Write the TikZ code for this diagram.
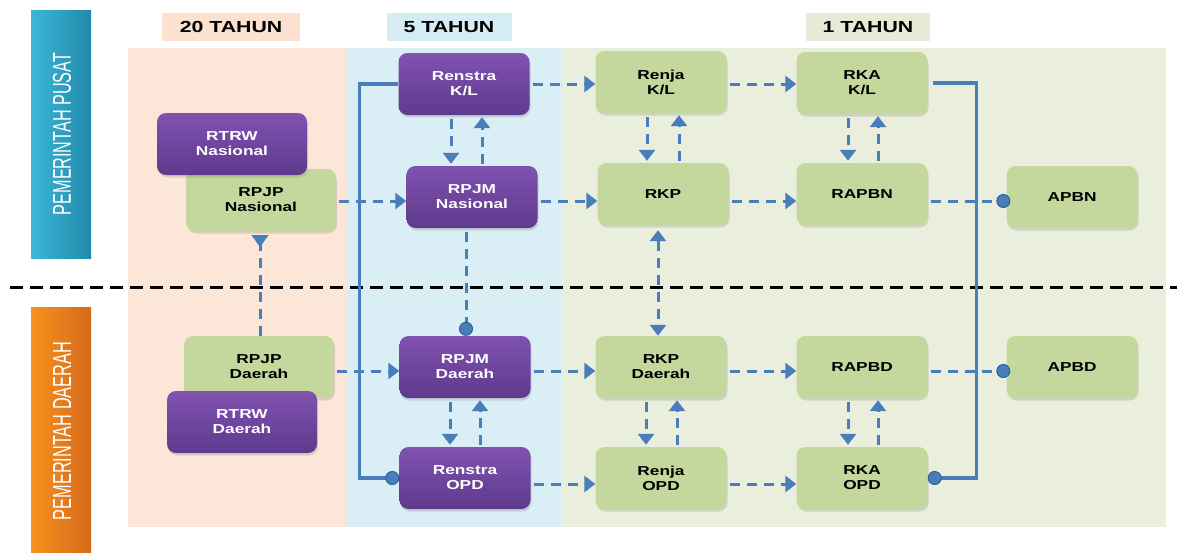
\documentclass[tikz,border=0pt]{standalone}
\usepackage{fontspec}
\setmainfont{Liberation Sans}
\usetikzlibrary{arrows.meta,shadows,calc}
\definecolor{bgpink}{HTML}{FCE6D8}
\definecolor{bgblue}{HTML}{DAEEF5}
\definecolor{bggreen}{HTML}{EAEEDD}
\definecolor{hdpink}{HTML}{FBE2D0}
\definecolor{hdblue}{HTML}{D6ECF4}
\definecolor{hdgreen}{HTML}{E6EBD6}
\definecolor{boxgreen}{HTML}{C4D79C}
\definecolor{purtop}{HTML}{8052B1}
\definecolor{purbot}{HTML}{5E3A8C}
\definecolor{lnblue}{HTML}{4A7EBB}
\definecolor{lndark}{HTML}{2F5F99}
\definecolor{bartop}{HTML}{3DB6D8}
\definecolor{barbot}{HTML}{1F8AAA}
\definecolor{ortop}{HTML}{F8921F}
\definecolor{orbot}{HTML}{D5691A}
\newcommand\wtxt[1]{\scalebox{1.33}[1]{#1}}
\tikzset{
  box/.style={rounded corners=9pt, minimum width=131pt, minimum height=62pt, inner sep=0pt, align=center,
    font=\fontsize{13}{15}\selectfont\bfseries,
    drop shadow={opacity=0.25, shadow xshift=1pt, shadow yshift=-2.5pt}},
  gbox/.style={box, fill=boxgreen, text=black},
  pbox/.style={box, top color=purtop, bottom color=purbot, text=white},
  wbox/.style={minimum width=150pt},
  dl/.style={draw=lnblue, line width=3pt, dash pattern=on 10pt off 7pt},
  sl/.style={draw=lnblue, line width=3.3pt},
  tri/.style={-{Triangle[width=16pt,length=11pt]}},
  dtri/.style={{Triangle[width=16pt,length=11pt]}-{Triangle[width=16pt,length=11pt]}},
  dot/.style={-{Circle[length=14pt, fill=lnblue, color=lndark, line width=1pt]}},
  hdr/.style={inner sep=0pt, minimum height=28pt, font=\fontsize{16}{18}\selectfont\bfseries}
}
\begin{document}
\begin{tikzpicture}[x=1pt,y=-1pt]
\useasboundingbox (0,0) rectangle (1177,552);
\fill[white] (0,0) rectangle (1177,552);
% column backgrounds
\fill[bgpink] (128,48) rectangle (347,527);
\fill[bgblue] (347,48) rectangle (562,527);
\fill[bggreen] (562,48) rectangle (1166,527);
% headers
\node[hdr, fill=hdpink, minimum width=138pt] (h20) at (231,27) {\wtxt{20 TAHUN}};
\node[hdr, fill=hdblue, minimum width=125pt] (h5) at (449,27) {\wtxt{5 TAHUN}};
\node[hdr, fill=hdgreen, minimum width=124pt] (h1) at (868,27) {\wtxt{1 TAHUN}};
% side bars
\shade[left color=bartop, right color=barbot] (31,10) rectangle (91,258);
\node[text=white, rotate=90, inner sep=0pt] (pusat) at (62,134) {\resizebox{162pt}{18pt}{PEMERINTAH PUSAT}};
\shade[left color=ortop, right color=orbot] (31,307) rectangle (91,552);
\node[text=white, rotate=90, inner sep=0pt] (daerah) at (62,431) {\resizebox{178pt}{18pt}{PEMERINTAH DAERAH}};
% separator
\draw[black, line width=3pt, dash pattern=on 13pt off 7pt] (10,287) -- (1177,287);
% nodes left column
\node[gbox, wbox] (rpjpn) at (261,200) {\wtxt{RPJP}\\\wtxt{Nasional}};
\node[pbox, wbox] (rtrwn) at (232,144) {\wtxt{RTRW}\\\wtxt{Nasional}};
\node[gbox, wbox] (rpjpd) at (259,367) {\wtxt{RPJP}\\\wtxt{Daerah}};
\node[pbox, wbox] (rtrwd) at (242,422) {\wtxt{RTRW}\\\wtxt{Daerah}};
% 5 tahun
\node[pbox] (rsk) at (464,84) {\wtxt{Renstra}\\\wtxt{K/L}};
\node[pbox] (rpjmn) at (472,197) {\wtxt{RPJM}\\\wtxt{Nasional}};
\node[pbox] (rpjmd) at (465,367) {\wtxt{RPJM}\\\wtxt{Daerah}};
\node[pbox] (rso) at (465,478) {\wtxt{Renstra}\\\wtxt{OPD}};
% 1 tahun
\node[gbox] (rjk) at (661,82) {\wtxt{Renja}\\\wtxt{K/L}};
\node[gbox] (rkp) at (663,194) {\wtxt{RKP}};
\node[gbox] (rkpd) at (661,367) {\wtxt{RKP}\\\wtxt{Daerah}};
\node[gbox] (rjo) at (661,478) {\wtxt{Renja}\\\wtxt{OPD}};
\node[gbox] (rkak) at (862,83) {\wtxt{RKA}\\\wtxt{K/L}};
\node[gbox] (rapbn) at (862,194) {\wtxt{RAPBN}};
\node[gbox] (rapbd) at (862,367) {\wtxt{RAPBD}};
\node[gbox] (rkao) at (862,478) {\wtxt{RKA}\\\wtxt{OPD}};
\node[gbox] (apbn) at (1072,197) {\wtxt{APBN}};
\node[gbox] (apbd) at (1072,367) {\wtxt{APBD}};
% row line levels
\path (rsk.east) coordinate (L1);
\path ([yshift=-4pt]rpjmn.east) coordinate (L2);
\path ([yshift=-4pt]rpjmd.east) coordinate (L3);
\path ([yshift=-6pt]rso.east) coordinate (L4);
% solid connectors
\draw[sl, dot] (rsk.west) -- ++(-39,0) |- (rso.west);
\draw[sl, {Circle[length=14pt, fill=lnblue, color=lndark, line width=1pt]}-] (rkao.east) -- ++(49,0) |- ([xshift=5pt]rkak.east);
% horizontal dashed connectors
\draw[dl, tri, shorten <=3pt] (rpjpn.east |- L2) -- (rpjmn.west |- L2);
\draw[dl, tri, shorten <=3pt] (rsk.east |- L1) -- (rjk.west |- L1);
\draw[dl, tri, shorten <=3pt] (rjk.east |- L1) -- (rkak.west |- L1);
\draw[dl, tri, shorten <=3pt] (rpjmn.east |- L2) -- (rkp.west |- L2);
\draw[dl, tri, shorten <=3pt] (rkp.east |- L2) -- (rapbn.west |- L2);
\draw[dl, dot, shorten <=3pt, shorten >=-4pt] (rapbn.east |- L2) -- (apbn.west |- L2);
\draw[dl, tri, shorten <=3pt] (rpjpd.east |- L3) -- (rpjmd.west |- L3);
\draw[dl, tri, shorten <=3pt] (rpjmd.east |- L3) -- (rkpd.west |- L3);
\draw[dl, tri, shorten <=3pt] (rkpd.east |- L3) -- (rapbd.west |- L3);
\draw[dl, dot, shorten <=3pt, shorten >=-4pt] (rapbd.east |- L3) -- (apbd.west |- L3);
\draw[dl, tri, shorten <=3pt] (rso.east |- L4) -- (rjo.west |- L4);
\draw[dl, tri, shorten <=3pt] (rjo.east |- L4) -- (rkao.west |- L4);
% vertical pairs
\draw[dl, tri, shorten <=4pt, shorten >=2pt] (451,0 |- rsk.south) -- (451,0 |- rpjmn.north);
\draw[dl, tri, shorten <=2pt, shorten >=2pt] (482,0 |- rpjmn.north) -- (482,0 |- rsk.south);
\draw[dl, tri, shorten <=4pt, shorten >=2pt] (647,0 |- rjk.south) -- (647,0 |- rkp.north);
\draw[dl, tri, shorten <=2pt, shorten >=2pt] (679,0 |- rkp.north) -- (679,0 |- rjk.south);
\draw[dl, tri, shorten <=4pt, shorten >=2pt] (848,0 |- rkak.south) -- (848,0 |- rapbn.north);
\draw[dl, tri, shorten <=2pt, shorten >=2pt] (878,0 |- rapbn.north) -- (878,0 |- rkak.south);
\draw[dl, tri, shorten <=4pt, shorten >=2pt] (450,0 |- rpjmd.south) -- (450,0 |- rso.north);
\draw[dl, tri, shorten <=2pt, shorten >=2pt] (480,0 |- rso.north) -- (480,0 |- rpjmd.south);
\draw[dl, tri, shorten <=4pt, shorten >=2pt] (646,0 |- rkpd.south) -- (646,0 |- rjo.north);
\draw[dl, tri, shorten <=2pt, shorten >=2pt] (677,0 |- rjo.north) -- (677,0 |- rkpd.south);
\draw[dl, tri, shorten <=4pt, shorten >=2pt] (848,0 |- rapbd.south) -- (848,0 |- rkao.north);
\draw[dl, tri, shorten <=2pt, shorten >=2pt] (878,0 |- rkao.north) -- (878,0 |- rapbd.south);
% cross-level verticals
\draw[dl, -{Triangle[reversed, width=16pt, length=12pt]}, shorten >=4pt] (260,0 |- rpjpd.north) -- (260,0 |- rpjpn.south);
\draw[dl, dot, shorten <=4pt] (466,0 |- rpjmn.south) -- (466,0 |- rpjmd.north);
\draw[dl, dtri, shorten <=5pt] (658,0 |- rkp.south) -- (658,0 |- rkpd.north);
\end{tikzpicture}
\end{document}
